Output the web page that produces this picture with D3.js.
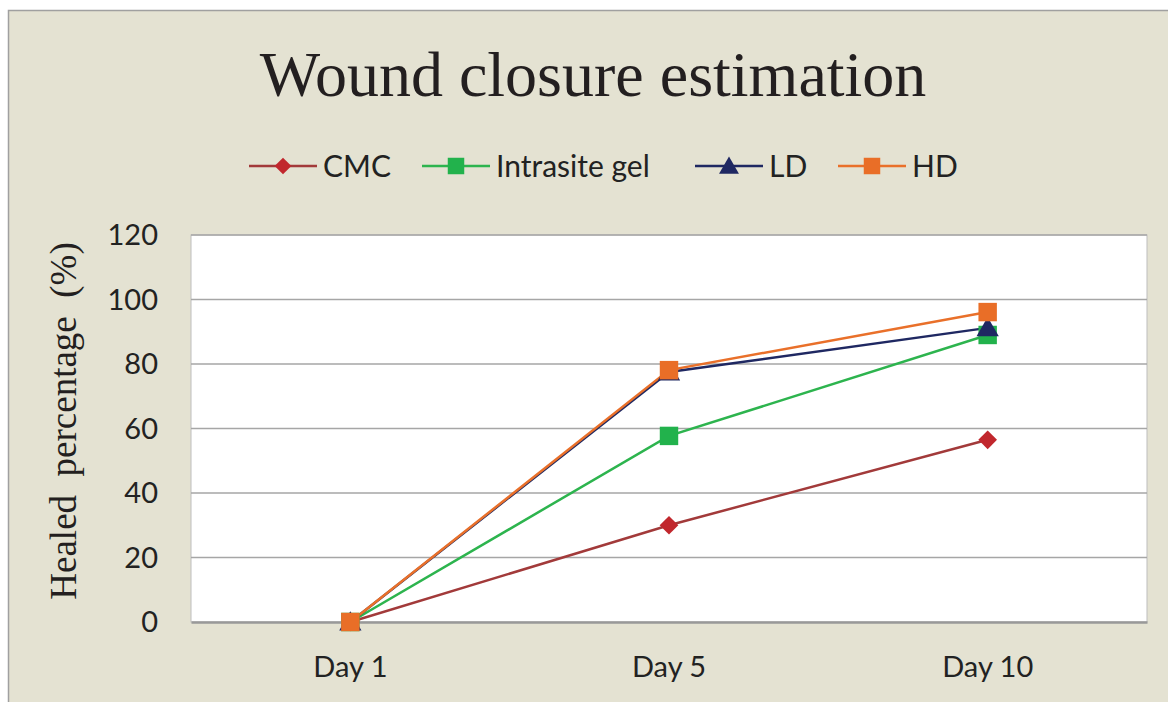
<!DOCTYPE html>
<html>
<head>
<meta charset="utf-8">
<script src="https://cdn.jsdelivr.net/npm/d3@7"></script>
<style>
  body { margin: 0; background: #fff; }
</style>
</head>
<body>
<script>
// chart data
var days = ["Day 1", "Day 5", "Day 10"];
var yTicks = [0, 20, 40, 60, 80, 100, 120];
var cmc = [0, 30, 56.5];
var intrasite = [0, 57.7, 89];
var ld = [0, 77.5, 91.2];
var hd = [0, 78.1, 96.1];

var series = [
  { name: "CMC", values: cmc, line: "#A23A3A", fill: "#C1272D", shape: "diamond" },
  { name: "Intrasite gel", values: intrasite, line: "#2DB44E", fill: "#22B24C", shape: "square" },
  { name: "LD", values: ld, line: "#1F2862", fill: "#1F2862", shape: "triangle" },
  { name: "HD", values: hd, line: "#E9702A", fill: "#E96E27", shape: "square" }
];

var W = 1168, H = 702;
var sans = "Lato, 'Open Sans', sans-serif";
var serif = "'Liberation Serif', 'DejaVu Serif', serif";

var svg = d3.select("body").append("svg")
    .attr("width", W)
    .attr("height", H);

// outer chart frame
svg.append("rect")
    .attr("x", 8.5).attr("y", 10.5)
    .attr("width", W + 20).attr("height", H + 20)
    .attr("fill", "#E4E2D2")
    .attr("stroke", "#A0A0A0")
    .attr("stroke-width", 1.5);

var plot = { left: 191, right: 1147, top: 235, bottom: 622 };

var x = d3.scaleBand().domain(days).range([plot.left, plot.right]);
var y = d3.scaleLinear().domain([0, 120]).range([plot.bottom, plot.top]);

// plot area
svg.append("rect")
    .attr("x", plot.left).attr("y", plot.top)
    .attr("width", plot.right - plot.left).attr("height", plot.bottom - plot.top)
    .attr("fill", "#fff")
    .attr("stroke", "#BDBDBD")
    .attr("stroke-width", 1);

// gridlines
svg.append("g").selectAll("line")
  .data(yTicks.filter(function(d){ return d > 0; }))
  .join("line")
    .attr("x1", plot.left).attr("x2", plot.right)
    .attr("y1", function(d){ return y(d); })
    .attr("y2", function(d){ return y(d); })
    .attr("stroke", "#A6A6A6")
    .attr("stroke-width", 1.5);

// y axis
var yAxis = svg.append("g")
    .attr("transform", "translate(" + plot.left + ",0)")
    .call(d3.axisLeft(y).tickValues(yTicks).tickSize(0).tickPadding(33));
yAxis.select(".domain").remove();
yAxis.selectAll("text")
    .attr("font-family", sans)
    .attr("font-size", 29)
    .attr("fill", "#222")
    .attr("dy", "0.34em");

// x axis
var xAxis = svg.append("g")
    .attr("transform", "translate(0," + plot.bottom + ")")
    .call(d3.axisBottom(x).tickSize(0).tickPadding(0));
xAxis.select(".domain")
    .attr("stroke", "#999")
    .attr("stroke-width", 2.5);
xAxis.selectAll("text")
    .attr("font-family", sans)
    .attr("font-size", 29)
    .attr("fill", "#222")
    .attr("y", 45)
    .attr("dy", "0.35em");

// title
svg.append("text")
    .attr("x", 593).attr("y", 96)
    .attr("text-anchor", "middle")
    .attr("font-family", serif)
    .attr("font-size", 64)
    .attr("fill", "#231F20")
    .text("Wound closure estimation");

// y label
svg.append("text")
    .attr("transform", "translate(76,421) rotate(-90)")
    .attr("text-anchor", "middle")
    .attr("font-family", serif)
    .attr("font-size", 37)
    .attr("fill", "#231F20")
    .style("white-space", "pre")
    .text("Healed  percentage  (%)");

function marker(g, shape, fill, k) {
  k = k || 1;
  if (shape === "diamond") {
    g.append("path")
      .attr("d", d3.symbol().type(d3.symbolSquare).size(175 * k))
      .attr("transform", "rotate(45)")
      .attr("fill", fill);
  } else {
    var sym = shape === "triangle" ? d3.symbolTriangle : d3.symbolSquare;
    g.append("path")
      .attr("d", d3.symbol().type(sym).size((shape === "triangle" ? 215 : 340) * k))
      .attr("fill", fill);
  }
}

// series lines and markers
var line = d3.line()
    .x(function(d, i){ return x(days[i]) + x.bandwidth() / 2; })
    .y(function(d){ return y(d); });

series.forEach(function(s) {
  svg.append("path")
      .datum(s.values)
      .attr("d", line)
      .attr("fill", "none")
      .attr("stroke", s.line)
      .attr("stroke-width", 2.5);
});
series.forEach(function(s) {
  svg.append("g").selectAll("g")
    .data(s.values)
    .join("g")
      .attr("transform", function(d, i){
        var dy = s.shape === "triangle" ? 2 : 0;
        return "translate(" + (x(days[i]) + x.bandwidth() / 2) + "," + (y(d) + dy) + ")";
      })
      .each(function(){ marker(d3.select(this), s.shape, s.fill); });
});

// legend
var legendX = [249, 422, 695, 838];
var legend = svg.append("g");
series.forEach(function(s, i) {
  var g = legend.append("g").attr("transform", "translate(" + legendX[i] + ",166)");
  g.append("line")
      .attr("x1", 0).attr("x2", 68)
      .attr("stroke", s.line)
      .attr("stroke-width", 2.5);
  var m = g.append("g").attr("transform", "translate(34," + (s.shape === "triangle" ? 2 : 0) + ")");
  marker(m, s.shape, s.fill, 0.8);
  g.append("text")
      .attr("x", 74).attr("y", 0)
      .attr("dy", "0.36em")
      .attr("font-family", sans)
      .attr("font-size", 30)
      .attr("fill", "#222")
      .text(s.name);
});
</script>
</body>
</html>
